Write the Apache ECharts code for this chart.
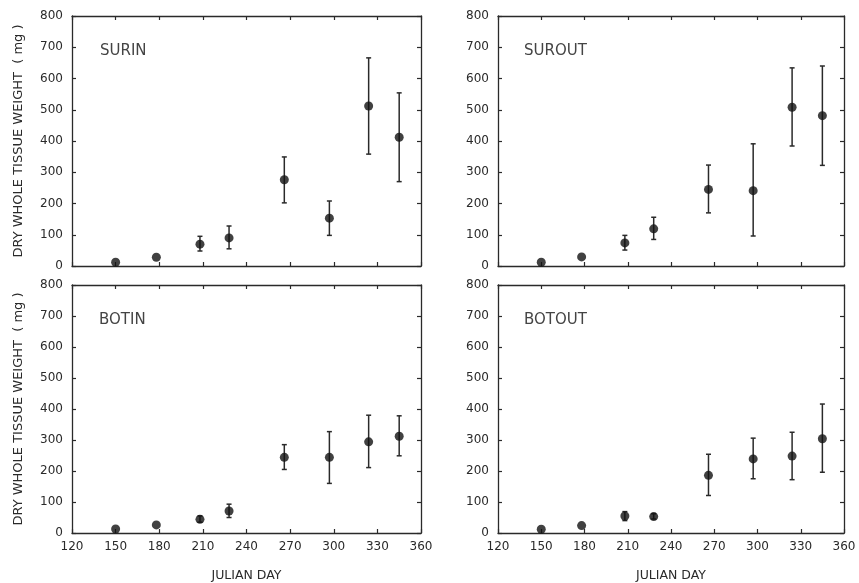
<!DOCTYPE html>
<html>
<head>
<meta charset="utf-8">
<script src="https://cdn.jsdelivr.net/npm/echarts@6/dist/echarts.min.js"></script>
<style>html,body{margin:0;padding:0;background:#fff}#c{width:859px;height:583px}</style>
</head>
<body>
<div id="c"></div>
<script>
var days = [150, 178, 208, 228, 266, 297, 324, 345];
var xTicks = [120, 150, 180, 210, 240, 270, 300, 330, 360];
var yTicks = [0, 100, 200, 300, 400, 500, 600, 700, 800];
var panelNames = ['SURIN', 'SUROUT', 'BOTIN', 'BOTOUT'];

var surinMean = [12, 28, 70, 90, 276, 153, 512, 412];
var surinLow  = [12, 28, 48, 55, 202, 98, 358, 270];
var surinHigh = [12, 28, 95, 128, 349, 208, 666, 554];

var suroutMean = [12, 29, 74, 119, 245, 241, 508, 481];
var suroutLow  = [12, 29, 51, 85, 170, 96, 384, 322];
var suroutHigh = [12, 29, 98, 156, 323, 391, 634, 640];

var botinMean = [13, 26, 44, 71, 244, 244, 294, 312];
var botinLow  = [13, 26, 35, 50, 205, 160, 211, 249];
var botinHigh = [13, 26, 55, 93, 285, 327, 380, 378];

var botoutMean = [12, 24, 55, 53, 186, 239, 248, 304];
var botoutLow  = [12, 24, 40, 45, 121, 175, 172, 196];
var botoutHigh = [12, 24, 69, 62, 254, 306, 325, 416];

var means = [surinMean, suroutMean, botinMean, botoutMean];
var lows = [surinLow, suroutLow, botinLow, botoutLow];
var highs = [surinHigh, suroutHigh, botinHigh, botoutHigh];

var FONT = 'DejaVu Sans';
var INK = '#2a2a2a';
var grids = [
  {left: 72, top: 16, width: 349, height: 250},
  {left: 498, top: 16, width: 346, height: 250},
  {left: 72, top: 285, width: 349, height: 251},
  {left: 498, top: 285, width: 346, height: 250}
];
var labelPos = [[95, 39], [519, 39], [94, 308], [519, 308]];

var xAxes = [], yAxes = [], series = [], titles = [];
var xMin = xTicks[0], xMax = xTicks[xTicks.length - 1], xInt = xTicks[1] - xTicks[0];
var yMin = yTicks[0], yMax = yTicks[yTicks.length - 1], yInt = yTicks[1] - yTicks[0];

function axisCommon() {
  return {
    axisLine: {show: true, onZero: false, lineStyle: {color: INK, width: 1.3}},
    axisTick: {show: true, inside: true, length: 4, lineStyle: {color: INK, width: 1.2}},
    splitLine: {show: false}
  };
}

for (var i = 0; i < 4; i++) {
  var bottomRow = i >= 2, leftCol = (i % 2) === 0;
  var xb = Object.assign(axisCommon(), {
    type: 'value', gridIndex: i, position: 'bottom', min: xMin, max: xMax, interval: xInt,
    axisLabel: {show: bottomRow, color: INK, fontFamily: FONT, fontSize: 12, margin: 8},
    name: bottomRow ? 'JULIAN DAY' : '', nameLocation: 'middle', nameGap: 36,
    nameTextStyle: {color: INK, fontFamily: FONT, fontSize: 12.5}
  });
  var xt = Object.assign(axisCommon(), {
    type: 'value', gridIndex: i, position: 'top', min: xMin, max: xMax, interval: xInt,
    axisLabel: {show: false}
  });
  xAxes.push(xb, xt);
  var yl = Object.assign(axisCommon(), {
    type: 'value', gridIndex: i, position: 'left', min: yMin, max: yMax, interval: yInt,
    axisLabel: {show: true, color: INK, fontFamily: FONT, fontSize: 12, margin: 9},
    name: leftCol ? 'DRY WHOLE TISSUE WEIGHT  ( mg )' : '', nameLocation: 'middle', nameGap: 47,
    nameTextStyle: {color: INK, fontFamily: FONT, fontSize: 13}
  });
  var yr = Object.assign(axisCommon(), {
    type: 'value', gridIndex: i, position: 'right', min: yMin, max: yMax, interval: yInt,
    axisLabel: {show: false}
  });
  yAxes.push(yl, yr);

  var pts = [], bars = [];
  for (var k = 0; k < days.length; k++) {
    pts.push([days[k], means[i][k]]);
    bars.push([days[k], lows[i][k], highs[i][k]]);
  }
  series.push({
    type: 'custom', xAxisIndex: 2 * i, yAxisIndex: 2 * i, data: bars, silent: true,
    renderItem: function (params, api) {
      var x = api.value(0), lo = api.value(1), hi = api.value(2);
      if (hi <= lo) return null;
      var pLo = api.coord([x, lo]), pHi = api.coord([x, hi]);
      var cw = 2.5;
      var st = {stroke: INK, lineWidth: 1.5};
      return {type: 'group', children: [
        {type: 'line', shape: {x1: pLo[0], y1: pLo[1], x2: pHi[0], y2: pHi[1]}, style: st},
        {type: 'line', shape: {x1: pLo[0] - cw, y1: pLo[1], x2: pLo[0] + cw, y2: pLo[1]}, style: st},
        {type: 'line', shape: {x1: pHi[0] - cw, y1: pHi[1], x2: pHi[0] + cw, y2: pHi[1]}, style: st}
      ]};
    }
  });
  series.push({
    type: 'scatter', xAxisIndex: 2 * i, yAxisIndex: 2 * i, data: pts,
    symbol: 'circle', symbolSize: 9, itemStyle: {color: '#111'}, silent: true
  });
  titles.push({
    text: panelNames[i], left: labelPos[i][0], top: labelPos[i][1],
    textStyle: {color: '#444', fontFamily: FONT, fontSize: 15, fontWeight: 'normal'}
  });
}

var chart = echarts.init(document.getElementById('c'), null, {renderer: 'canvas'});
chart.setOption({
  animation: false,
  backgroundColor: '#fff',
  title: titles,
  grid: grids,
  xAxis: xAxes,
  yAxis: yAxes,
  series: series
});
</script>
</body>
</html>
